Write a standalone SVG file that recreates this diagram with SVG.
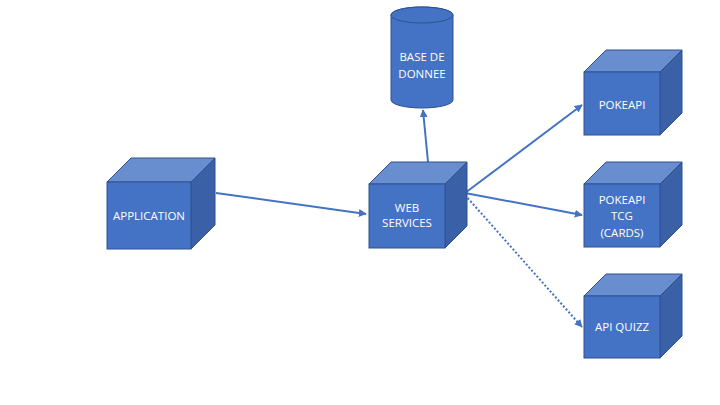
<svg xmlns="http://www.w3.org/2000/svg" width="720" height="405" viewBox="0 0 720 405">
<defs>
<style>
.front{fill:#4472C4;stroke:#2F528F;stroke-width:1}
.top{fill:#698ED0;stroke:#2F528F;stroke-width:1}
.side{fill:#3A61A8;stroke:#2F528F;stroke-width:1}
.lbl{font-family:"Open Sans","Liberation Sans",sans-serif;font-size:11.5px;fill:#FFFFFF;text-anchor:middle}
.conn{stroke:#4472C4;stroke-width:2;fill:none}
.dot{stroke-dasharray:2 2}
</style>
<marker id="ah" viewBox="0 0 10 10" refX="9" refY="5" markerWidth="4" markerHeight="4" orient="auto" markerUnits="strokeWidth">
<path d="M0,0 L10,5 L0,10 z" fill="#4472C4"/>
</marker>
</defs>
<rect width="720" height="405" fill="#FFFFFF"/>
<g id="connectors">
<line class="conn" x1="216" y1="193" x2="366" y2="214" marker-end="url(#ah)"/>
<line class="conn" x1="428" y1="162" x2="423" y2="110" marker-end="url(#ah)"/>
<line class="conn" x1="465" y1="193" x2="582" y2="105" marker-end="url(#ah)"/>
<line class="conn" x1="465" y1="193" x2="582" y2="215" marker-end="url(#ah)"/>
<line class="conn dot" x1="465" y1="195" x2="582" y2="327" marker-end="url(#ah)"/>
</g>
<g id="application">
<polygon class="top" points="107,182 131,158 215,158 191,182"/>
<polygon class="side" points="191,182 215,158 215,225 191,249"/>
<rect class="front" x="107" y="182" width="84" height="67"/>
<text class="lbl" x="149" y="220">APPLICATION</text>
</g>
<g id="web-services">
<polygon class="top" points="369,184 391,162 467,162 445,184"/>
<polygon class="side" points="445,184 467,162 467,226 445,248"/>
<rect class="front" x="369" y="184" width="76" height="64"/>
<text class="lbl" x="407" y="212">WEB</text>
<text class="lbl" x="407" y="227">SERVICES</text>
</g>
<g id="base-de-donnee">
<path class="front" d="M391,15 L391,100 A31,8 0 0 0 453,100 L453,15 A31,8 0 0 0 391,15 Z"/>
<ellipse class="front" cx="422" cy="15" rx="31" ry="8"/>
<text class="lbl" x="422" y="61">BASE DE</text>
<text class="lbl" x="422" y="78">DONNEE</text>
</g>
<g id="pokeapi">
<polygon class="top" points="584,72 606,50 682,50 660,72"/>
<polygon class="side" points="660,72 682,50 682,113 660,135"/>
<rect class="front" x="584" y="72" width="76" height="63"/>
<text class="lbl" x="622" y="109">POKEAPI</text>
</g>
<g id="pokeapi-tcg">
<polygon class="top" points="584,184 606,162 682,162 660,184"/>
<polygon class="side" points="660,184 682,162 682,225 660,247"/>
<rect class="front" x="584" y="184" width="76" height="63"/>
<text class="lbl" x="622" y="204">POKEAPI</text>
<text class="lbl" x="622" y="220">TCG</text>
<text class="lbl" x="622" y="237">(CARDS)</text>
</g>
<g id="api-quizz">
<polygon class="top" points="584,296 606,274 682,274 660,296"/>
<polygon class="side" points="660,296 682,274 682,336 660,358"/>
<rect class="front" x="584" y="296" width="76" height="62"/>
<text class="lbl" x="622" y="331">API QUIZZ</text>
</g>
</svg>
